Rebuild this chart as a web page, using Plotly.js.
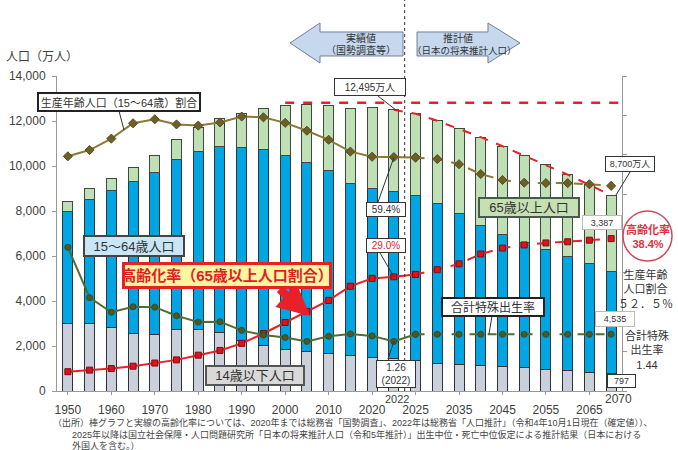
<!DOCTYPE html>
<html><head><meta charset="utf-8">
<script src="https://cdn.plot.ly/plotly-3.0.1.min.js"></script>
<style>html,body{margin:0;padding:0;background:#fff}#chart{width:678px;height:450px}</style>
</head><body><div id="chart"></div>
<script>
// ---- data (万人, %) ----
const years = ['1950','1955','1960','1965','1970','1975','1980','1985','1990','1995','2000','2005','2010','2015','2020','2022','2025','2030','2035','2040','2045','2050','2055','2060','2065','2070'];
const pop0_14  = [2979,3012,2843,2553,2515,2722,2751,2603,2249,2001,1847,1752,1680,1589,1503,1450,1363,1240,1169,1142,1103,1041,966,893,842,797];
const pop15_64 = [5017,5517,6047,6744,7212,7581,7883,8251,8590,8716,8622,8409,8103,7629,7509,7421,7310,7076,6722,6213,5832,5540,5307,5078,4809,4535];
const pop65    = [416,479,540,624,739,887,1065,1247,1489,1826,2201,2567,2925,3347,3603,3624,3653,3696,3773,3928,3945,3888,3779,3644,3508,3367];
const agingRate = [4.9,5.3,5.7,6.3,7.1,7.9,9.1,10.3,12.1,14.6,17.4,20.2,23.0,26.6,28.6,29.0,29.6,30.8,32.3,34.8,36.3,37.1,37.6,37.9,38.3,38.7];
const workRatio = [59.6,61.2,64.1,68.0,69.0,67.7,67.4,68.2,69.7,69.5,68.1,66.1,63.8,60.8,59.5,59.4,59.3,58.9,57.6,55.1,53.6,52.9,52.8,52.8,52.5,52.1];
const fertility = [3.65,2.37,2.00,2.14,2.13,1.91,1.75,1.76,1.54,1.42,1.36,1.26,1.39,1.45,1.40,1.26,1.44,1.44,1.44,1.44,1.44,1.44,1.44,1.44,1.44,1.44];
const peakPop = 12808;
const xTickYears = ['1950','1960','1970','1980','1990','2000','2010','2020','2025','2035','2045','2055','2065'];

const totals = years.map((_,i)=>pop0_14[i]+pop15_64[i]+pop65[i]);
const iSplit = years.indexOf('2025');
const iProjStart = years.indexOf('2022');

// ---- geometry helpers ----
const W=678,H=450,L=57,R=56,T=76,B=59;
const PW=W-L-R, PH=H-T-B;
const px=x=>(x-L)/PW, py=y=>(H-B-y)/PH;
const JP = 'Liberation Sans, Noto Sans CJK JP, sans-serif';

const bar=(y,c,lc)=>({type:'bar',x:years,y:y,marker:{color:c,line:{color:lc||'#333',width:1}},hoverinfo:'skip'});
const line=(x,y,ax,col,dash,msym,mcol,mline,ms)=>({type:'scatter',mode:'lines+markers',x:x,y:y,yaxis:ax,
  line:{color:col,width:2,dash:dash},marker:{symbol:msym,color:mcol,size:ms,line:{color:mline,width:1}},hoverinfo:'skip'});

const hx=years.slice(0,iSplit+1), fx=years.slice(iSplit);
const data=[
  bar(pop0_14,'#C9D0DC'),
  bar(pop15_64,'#00A5E3'),
  bar(pop65,'#BEE0B4','#3d4a3d'),
  {type:'scatter',mode:'lines',x:years.slice(iProjStart),y:totals.slice(iProjStart),line:{color:'#E8202A',width:2,dash:'dash'},hoverinfo:'skip'},
  line(hx,workRatio.slice(0,iSplit+1),'y2','#8A7A36','solid','diamond','#6E5E28','#5a4a20',7),
  line(fx,workRatio.slice(iSplit),'y2','#8A7A36','dash','diamond','#6E5E28','#5a4a20',7),
  line(hx,fertility.slice(0,iSplit+1),'y3','#4F6E32','solid','circle','#4A5A26','#3a4a1e',6),
  line(fx,fertility.slice(iSplit),'y3','#4F6E32','dash','circle','#4A5A26','#3a4a1e',6),
  line(hx,agingRate.slice(0,iSplit+1),'y2','#E8202A','solid','square','#E0101E','#7a1010',6),
  line(fx,agingRate.slice(iSplit),'y2','#E8202A','dash','square','#E0101E','#7a1010',6)
];

const pathOf=pts=>'M '+pts.map(p=>px(p[0]).toFixed(4)+','+py(p[1]).toFixed(4)).join(' L ')+' Z';
const seg=(x0,y0,x1,y1,c,w)=>({type:'line',xref:'paper',yref:'paper',x0:px(x0),y0:py(y0),x1:px(x1),y1:py(y1),line:{color:c||'#333',width:w||1}});

const shapes=[
  {type:'line',xref:'x',yref:'paper',x0:15.5,x1:15.5,y0:0,y1:py(0),line:{color:'#333',width:1,dash:'dot'}},
  {type:'line',xref:'x',yref:'y',x0:10,x1:25.5,y0:peakPop,y1:peakPop,line:{color:'#E8202A',width:2.5,dash:'dash'}},
  {type:'path',xref:'paper',yref:'paper',path:pathOf([[290,43],[320,23],[320,32],[403,32],[403,56],[320,56],[320,63]]),fillcolor:'#C6D8EE',line:{color:'#6F7F99',width:1}},
  {type:'path',xref:'paper',yref:'paper',path:pathOf([[520,43],[488,23],[488,32],[417,32],[417,56],[488,56],[488,63]]),fillcolor:'#C6D8EE',line:{color:'#6F7F99',width:1}},
  {type:'circle',xref:'paper',yref:'paper',x0:px(623),x1:px(672),y0:py(211),y1:py(261),fillcolor:'#fff',line:{color:'#D04858',width:1.5}},
  seg(119,111,124,130),
  seg(378,96,396,110),
  seg(378,202,394,157),
  seg(380,253,394,277),
  seg(388,359,394,341),
  seg(630,172,616,195),
  seg(492,316,489,334)
];

const box=(text,cx,cy,w,h,o)=>Object.assign({xref:'paper',yref:'paper',x:px(cx),y:py(cy),xanchor:'center',yanchor:'middle',
  text:text,showarrow:false,width:w,height:h,bgcolor:'#fff',bordercolor:'#333',borderwidth:1,borderpad:0,
  font:{family:JP,size:10,color:'#333'}},o||{});
const txt=(text,cx,cy,size,col,o)=>Object.assign({xref:'paper',yref:'paper',x:px(cx),y:py(cy),xanchor:'center',yanchor:'middle',
  text:text,showarrow:false,font:{family:JP,size:size,color:col||'#333'}},o||{});

const annotations=[
  txt('人口（万人）',42,57,12,'#404040'),
  box('生産年齢人口（15～64歳）割合',118.5,101.5,160,16,{borderwidth:2,bordercolor:'#222',font:{family:JP,size:11,color:'#333'}}),
  txt('実績値',361,38,10,'#333'),
  txt('（国勢調査等）',361,50,10,'#333'),
  txt('推計値',458,38,10,'#333'),
  txt('（日本の将来推計人口）',464,50,9.5,'#333'),
  box('12,495万人',370,87,70,16),
  box('59.4%',386,209,38,13),
  box('29.0%',386,245.5,38,13,{font:{family:JP,size:10,color:'#E02030'}}),
  box('1.26<br>(2022)',396,373.5,38,26,{font:{family:JP,size:10,color:'#333'}}),
  box('8,700万人',630,163.5,48,14,{font:{family:JP,size:9,color:'#333'}}),
  box('3,387',602,222.5,38,13,{font:{family:JP,size:9,color:'#333'},bordercolor:'#bbb'}),
  box('4,535',615,318.5,38,14,{font:{family:JP,size:9,color:'#333'},bordercolor:'#bbb'}),
  box('797',621,381,27,12,{font:{family:JP,size:9,color:'#333'}}),
  txt('<b>高齢化率<br>38.4%</b>',647.5,236,11,'#E03040'),
  txt('生産年齢<br>人口割合<br>５２．５％',645,289,11,'#333'),
  txt('合計特殊<br>出生率<br>1.44',647,350,11,'#333'),
  box('15～64歳人口',134,246,98,18,{bgcolor:'#C8E6F6',borderwidth:2,bordercolor:'#444',font:{family:JP,size:13,color:'#333'}}),
  box('14歳以下人口',255,375,96,17,{bgcolor:'#D9D9D9',borderwidth:2,bordercolor:'#555',font:{family:JP,size:13,color:'#333'}}),
  box('65歳以上人口',529,207,98,17,{bgcolor:'#C6E0B4',borderwidth:2,bordercolor:'#4a5a4a',font:{family:JP,size:13,color:'#333'}}),
  box('合計特殊出生率',493,306.5,100,16,{borderwidth:2,bordercolor:'#222',font:{family:JP,size:12,color:'#333'}}),
  {xref:'paper',yref:'paper',x:px(310),y:py(316),ax:-32,ay:-28,text:'',showarrow:true,arrowhead:2,arrowsize:0.8,arrowwidth:8,arrowcolor:'#E8202A',standoff:0},
  box('<b>高齢化率（65歳以上人口割合）</b>',227,275.5,204,21,{bgcolor:'#FFF4A0',borderwidth:3,bordercolor:'#E8202A',font:{family:JP,size:15,color:'#E01E28'}}),
  {xref:'x',yref:'y',x:'2070',y:totals[totals.length-1],ax:-14,ay:-10,text:'',showarrow:true,arrowhead:2,arrowsize:1,arrowwidth:2,arrowcolor:'#E8202A',standoff:1},
  txt('2022',397,399,11,'#404040'),
  txt('2070',618,399,12,'#404040'),
  txt('（出所）棒グラフと実線の高齢化率については、2020年までは総務省「国勢調査」、2022年は総務省「人口推計」（令和4年10月1日現在（確定値））、',51,422,9,'#444',{xanchor:'left'}),
  txt('2025年以降は国立社会保障・人口問題研究所「日本の将来推計人口（令和5年推計）」出生中位・死亡中位仮定による推計結果（日本における',70,434,9,'#444',{xanchor:'left'}),
  txt('外国人を含む。）',70,445,9,'#444',{xanchor:'left'})
];

const layout={
  width:W,height:H,margin:{l:L,r:R,t:T,b:B,pad:0},
  paper_bgcolor:'#fff',plot_bgcolor:'#fff',
  barmode:'stack',bargap:0.54,showlegend:false,
  font:{family:JP,color:'#404040'},
  xaxis:{type:'category',categoryorder:'array',categoryarray:years,range:[-0.5,25.5],
    tickmode:'array',tickvals:xTickYears,ticktext:xTickYears,ticks:'outside',ticklen:3,tickcolor:'#999',
    showline:true,linecolor:'#999',showgrid:false,zeroline:false,tickfont:{size:12,color:'#404040'},ticklabelstandoff:5,fixedrange:true},
  yaxis:{range:[0,14000],tickmode:'array',tickvals:[0,2000,4000,6000,8000,10000,12000,14000],tickformat:',d',
    ticks:'outside',ticklen:4,tickcolor:'#999',showline:true,linecolor:'#999',showgrid:false,zeroline:false,
    tickfont:{size:12,color:'#404040'},ticklabelstandoff:4,fixedrange:true},
  yaxis2:{overlaying:'y',side:'right',anchor:'x',range:[0,80],tick0:0,dtick:10,showticklabels:false,ticks:'outside',ticklen:4,
    tickcolor:'#999',showline:true,linecolor:'#999',showgrid:false,zeroline:false,fixedrange:true},
  yaxis3:{overlaying:'y',anchor:'x',range:[0,8],visible:false,fixedrange:true},
  shapes:shapes,annotations:annotations
};
Plotly.newPlot('chart',data,layout,{staticPlot:true,displayModeBar:false});
</script></body></html>
